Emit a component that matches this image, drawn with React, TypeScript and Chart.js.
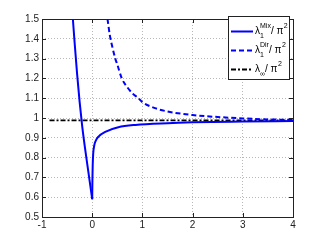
import { useEffect, useRef } from 'react';
import { Chart, registerables } from 'chart.js';
Chart.register(...registerables);

const mixLeftX = [-0.385, -0.35, -0.3, -0.25, -0.2, -0.15, -0.1, -0.05, 0];
const mixLeftY = [1.5, 1.38, 1.22, 1.08, 0.96, 0.86, 0.77, 0.68, 0.59];
const mixRightX = [0, 0.005, 0.01, 0.02, 0.04, 0.07, 0.125, 0.26, 0.52, 0.86, 1.5, 2, 3, 4];
const mixRightY = [0.59, 0.7, 0.76, 0.82, 0.86, 0.885, 0.906, 0.93, 0.953, 0.965, 0.974, 0.978, 0.982, 0.985];
const dirX = [0.305, 0.35, 0.4, 0.46, 0.5, 0.59, 0.7, 0.8, 0.92, 1, 1.25, 1.5, 2, 2.5, 3, 3.5, 4];
const dirY = [1.5, 1.42, 1.36, 1.3, 1.27, 1.2, 1.155, 1.125, 1.1, 1.08, 1.05, 1.033, 1.015, 1.005, 0.998, 0.993, 0.99];
const infX = [-0.85, 4];
const infY = [0.988, 0.988];
const xTicks = [-1, 0, 1, 2, 3, 4];
const yTicks = [0.5, 0.6, 0.7, 0.8, 0.9, 1, 1.1, 1.2, 1.3, 1.4, 1.5];
const legendNames = ['Mix', 'Dir', '∞'];

const FONT = '"Liberation Sans", Arial, sans-serif';

const pts = (xs: number[], ys: number[]) => xs.map((x, i) => ({ x, y: ys[i] }));

const framePlugin = {
  id: 'frame',
  afterDraw(chart: any) {
    const { ctx, chartArea: a, scales } = chart;
    ctx.save();
    ctx.strokeStyle = '#222';
    ctx.lineWidth = 1;
    ctx.setLineDash([]);
    ctx.strokeRect(Math.round(a.left) + 0.5, Math.round(a.top) + 0.5, Math.round(a.right - a.left), Math.round(a.bottom - a.top));
    ctx.beginPath();
    xTicks.forEach((t) => {
      const px = Math.round(scales.x.getPixelForValue(t)) + 0.5;
      ctx.moveTo(px, a.bottom); ctx.lineTo(px, a.bottom - 4);
      ctx.moveTo(px, a.top); ctx.lineTo(px, a.top + 4);
    });
    yTicks.forEach((t) => {
      const py = Math.round(scales.y.getPixelForValue(t)) + 0.5;
      ctx.moveTo(a.left, py); ctx.lineTo(a.left + 4, py);
      ctx.moveTo(a.right, py); ctx.lineTo(a.right - 4, py);
    });
    ctx.stroke();

    // legend
    const lx = 228, ly = 16, lw = 61, lh = 63;
    ctx.fillStyle = '#fff';
    ctx.fillRect(lx, ly, lw, lh);
    ctx.strokeStyle = '#222';
    ctx.strokeRect(lx + 0.5, ly + 0.5, lw, lh);
    const rows = [31, 50, 69];
    const styles = [
      { color: '#0000ff', dash: [] as number[], width: 2 },
      { color: '#0000ff', dash: [5, 3], width: 2 },
      { color: '#000', dash: [5, 2, 2, 2], width: 1.8 },
    ];
    rows.forEach((ry, i) => {
      const s = styles[i];
      ctx.beginPath();
      ctx.strokeStyle = s.color;
      ctx.lineWidth = s.width;
      ctx.setLineDash(s.dash);
      ctx.moveTo(lx + 3, ry + 0.5);
      ctx.lineTo(lx + 25, ry + 0.5);
      ctx.stroke();
      ctx.setLineDash([]);
      ctx.fillStyle = '#000';
      ctx.textBaseline = 'alphabetic';
      ctx.textAlign = 'left';
      let x = lx + 27;
      ctx.font = '10px ' + FONT;
      ctx.fillText('λ', x, ry + 3);
      x += ctx.measureText('λ').width;
      ctx.font = '7px ' + FONT;
      const sub = i < 2 ? '1' : '∞';
      ctx.fillText(sub, x, ry + 7);
      const subW = ctx.measureText(sub).width;
      let supW = 0;
      if (i < 2) {
        ctx.fillText(legendNames[i], x, ry - 3);
        supW = ctx.measureText(legendNames[i]).width;
      }
      x += Math.max(subW, supW);
      ctx.font = '10px ' + FONT;
      ctx.fillText('/ π', x, ry + 3);
      x += ctx.measureText('/ π').width;
      ctx.font = '7px ' + FONT;
      ctx.fillText('2', x + 0.5, ry - 3);
    });
    ctx.restore();
  },
};

export default function App() {
  const ref = useRef<HTMLCanvasElement | null>(null);
  useEffect(() => {
    document.body.style.margin = '0';
    const chart = new Chart(ref.current as HTMLCanvasElement, {
      type: 'scatter',
      data: {
        datasets: [
          { label: 'mixL', data: pts(mixLeftX, mixLeftY), showLine: true, borderColor: '#0000ff', borderWidth: 2, pointRadius: 0, cubicInterpolationMode: 'monotone' },
          { label: 'mixR', data: pts(mixRightX, mixRightY), showLine: true, borderColor: '#0000ff', borderWidth: 2, pointRadius: 0, cubicInterpolationMode: 'monotone' },
          { label: 'dir', data: pts(dirX, dirY), showLine: true, borderColor: '#0000ff', borderWidth: 2, borderDash: [5, 3], pointRadius: 0, cubicInterpolationMode: 'monotone' },
          { label: 'inf', data: pts(infX, infY), showLine: true, borderColor: '#000', borderWidth: 1.8, borderDash: [5, 2, 2, 2], pointRadius: 0 },
        ],
      },
      options: {
        animation: false,
        responsive: false,
        devicePixelRatio: 1,
        layout: { padding: { left: 0, top: 19, right: 31, bottom: 0 } },
        plugins: { legend: { display: false }, tooltip: { enabled: false } },
        scales: {
          x: {
            type: 'linear', min: -1, max: 4,
            afterBuildTicks: (s: any) => { s.ticks = xTicks.map((v) => ({ value: v })); },
            afterFit: (s: any) => { s.height = 27; },
            ticks: { font: { family: FONT, size: 10 }, color: '#222', padding: 2, maxRotation: 0, autoSkip: false },
            grid: { color: '#b8b8b8', lineWidth: 1, tickLength: 0 },
            border: { display: false, dash: [1, 2] },
          },
          y: {
            type: 'linear', min: 0.5, max: 1.5,
            afterBuildTicks: (s: any) => { s.ticks = yTicks.map((v) => ({ value: v })); },
            afterFit: (s: any) => { s.width = 42; },
            ticks: { font: { family: FONT, size: 10 }, color: '#222', padding: 3, autoSkip: false, callback: (v: any) => String(Math.round(Number(v) * 10) / 10) },
            grid: { color: '#b8b8b8', lineWidth: 1, tickLength: 0 },
            border: { display: false, dash: [1, 2] },
          },
        },
      },
      plugins: [framePlugin],
    } as any);
    return () => chart.destroy();
  }, []);
  return <canvas ref={ref} width={324} height={244} style={{ display: 'block' }} />;
}
